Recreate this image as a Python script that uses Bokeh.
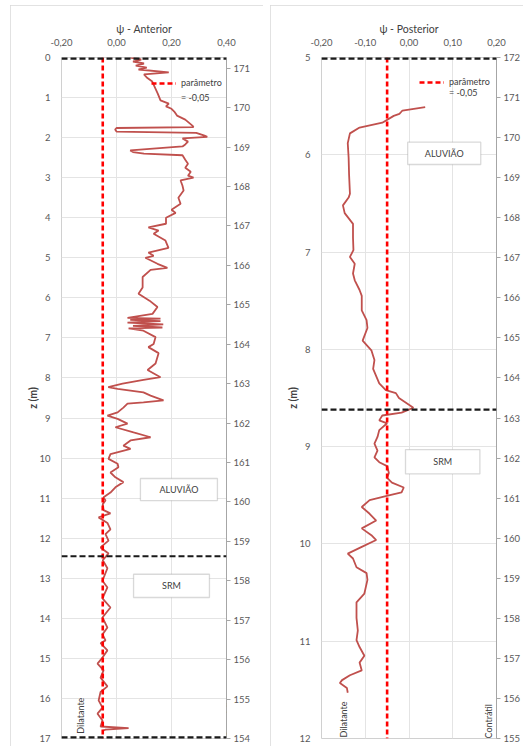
import math
from bokeh.plotting import figure
from bokeh.models import (Range1d, LinearAxis, FixedTicker, Span, Label, Legend,
                          LegendItem, BoxAnnotation)
from bokeh.layouts import row, column, Spacer
from bokeh.embed import file_html
from bokeh.resources import INLINE

# ---- data -------------------------------------------------------------
# psi profile, anterior sounding (z in m, psi dimensionless)
ant_z = [0.00, 0.05, 0.10, 0.15, 0.20, 0.25, 0.30, 0.37, 0.42, 0.50, 0.60, 0.75,
         0.90, 1.07, 1.15, 1.22, 1.28, 1.35, 1.45, 1.55, 1.70, 1.74, 1.76, 1.80,
         1.85, 1.88, 1.95, 1.98, 2.02, 2.10, 2.17, 2.22, 2.32, 2.36, 2.40, 2.44,
         2.55, 2.65, 2.75, 2.85, 2.95, 3.00, 3.07, 3.20, 3.32, 3.50, 3.65, 3.80,
         3.88, 4.00, 4.15, 4.24, 4.32, 4.40, 4.57, 4.75, 4.87, 4.95, 5.00, 5.15,
         5.25, 5.30, 5.48, 5.74, 5.90, 6.07, 6.23, 6.40, 6.50, 6.52, 6.55, 6.58,
         6.62, 6.66, 6.70, 6.74, 6.76, 6.82, 6.98, 7.15, 7.23, 7.38, 7.64, 7.80,
         7.98, 8.05, 8.14, 8.23, 8.27, 8.36, 8.44, 8.56, 8.61, 8.64, 8.74, 8.86,
         8.94, 9.02, 9.14, 9.23, 9.36, 9.48, 9.56, 9.69, 9.77, 9.90, 10.02, 10.14,
         10.23, 10.36, 10.48, 10.60, 10.73, 10.86, 10.98, 11.06, 11.15, 11.30,
         11.38, 11.48, 11.62, 11.78, 11.90, 12.06, 12.23, 12.38, 12.55, 12.75,
         13.06, 13.23, 13.50, 13.73, 13.98, 14.23, 14.40, 14.55, 14.62, 14.80,
         14.98, 15.13, 15.30, 15.48, 15.70, 15.84, 16.05, 16.23, 16.38, 16.55,
         16.70, 16.74, 16.78, 16.80]
ant_psi = [0.05, 0.09, 0.06, 0.10, 0.07, 0.11, 0.08, 0.19, 0.10, 0.11, 0.13, 0.14,
           0.15, 0.16, 0.19, 0.18, 0.20, 0.21, 0.22, 0.25, 0.276, 0.28, 0.00, -0.005,
           0.00, 0.29, 0.32, 0.33, 0.24, 0.26, 0.25, 0.24, 0.05, 0.06, 0.10, 0.24,
           0.25, 0.26, 0.25, 0.27, 0.26, 0.28, 0.233, 0.24, 0.244, 0.225, 0.233, 0.20,
           0.215, 0.18, 0.18, 0.116, 0.153, 0.135, 0.178, 0.189, 0.116, 0.135, 0.105, 0.149,
           0.185, 0.124, 0.095, 0.095, 0.08, 0.12, 0.149, 0.131, 0.04, 0.16, 0.05, 0.16,
           0.04, 0.17, 0.06, 0.167, 0.044, 0.098, 0.142, 0.135, 0.116, 0.153, 0.142, 0.113,
           0.16, 0.098, 0.022, -0.03, 0.004, 0.098, 0.124, 0.171, 0.098, 0.04, 0.025, 0.004,
           -0.033, 0.004, 0.04, -0.004, 0.062, 0.124, 0.051, 0.025, 0.051, -0.022, -0.029, 0.004,
           0.007, -0.022, -0.004, 0.025, -0.004, -0.022, -0.047, -0.04, -0.05, -0.047,
           -0.022, -0.065, -0.033, -0.022, -0.04, -0.029, -0.058, -0.029, -0.05, -0.033,
           -0.051, -0.033, -0.051, -0.022, -0.051, -0.033, -0.051, -0.04, -0.058, -0.033,
           -0.051, -0.069, -0.047, -0.058, -0.033, -0.058, -0.065, -0.051, -0.069, -0.051,
           -0.058, 0.044, -0.04, -0.047]

# psi profile, posterior sounding
post_z = [5.51, 5.545, 5.56, 5.58, 5.60, 5.67, 5.72, 5.78, 5.88, 6.03, 6.20, 6.40,
          6.44, 6.52, 6.60, 6.71, 6.85, 6.98, 7.05, 7.12, 7.22, 7.29, 7.39, 7.45,
          7.60, 7.70, 7.78, 7.91, 8.01, 8.11, 8.20, 8.35, 8.42, 8.45, 8.50, 8.60,
          8.65, 8.68, 8.73, 8.76, 8.83, 8.90, 8.97, 9.04, 9.11, 9.16, 9.20, 9.27,
          9.32, 9.37, 9.42, 9.47, 9.50, 9.55, 9.62, 9.69, 9.76, 9.84, 9.91, 9.96,
          10.03, 10.10, 10.15, 10.24, 10.30, 10.37, 10.51, 10.60, 10.76, 10.89,
          10.99, 11.06, 11.15, 11.22, 11.30, 11.35, 11.40, 11.43, 11.48, 11.53]
post_psi = [0.037, -0.015, -0.018, -0.022, -0.035, -0.061, -0.113, -0.135, -0.140, -0.138, -0.137, -0.135,
            -0.138, -0.151, -0.147, -0.128, -0.128, -0.127, -0.135, -0.124, -0.128, -0.124, -0.113, -0.108,
            -0.108, -0.097, -0.095, -0.106, -0.086, -0.079, -0.082, -0.068, -0.053, -0.030, -0.023, 0.010,
            -0.017, -0.061, -0.068, -0.050, -0.068, -0.072, -0.079, -0.072, -0.079, -0.068, -0.050, -0.046,
            -0.050, -0.039, -0.012, -0.017, -0.046, -0.090, -0.108, -0.090, -0.075, -0.108, -0.086, -0.075,
            -0.108, -0.140, -0.128, -0.120, -0.097, -0.095, -0.102, -0.120, -0.120, -0.117,
            -0.120, -0.113, -0.102, -0.113, -0.108, -0.135, -0.153, -0.158, -0.142, -0.140]

# reference parameter and layer boundaries (depth, m)
param_psi = -0.05
param_labels = ["parâmetro", "= -0,05"]
ant_layers = [0.0, 12.45, 17.0]
post_layers = [5.0, 8.62]

# tick values and labels
ant_x_ticks = [-0.2, 0.0, 0.2, 0.4]
ant_x_labels = ["-0,20", "0,00", "0,20", "0,40"]
post_x_ticks = [-0.2, -0.1, 0.0, 0.1, 0.2]
post_x_labels = ["-0,20", "-0,10", "0,00", "0,10", "0,20"]
ant_z_ticks = list(range(0, 18))
post_z_ticks = list(range(5, 13))
ant_elev_ticks = list(range(154, 172))
post_elev_ticks = list(range(155, 173))

# ---- styling ----------------------------------------------------------
FONT = "Lato"
TXT = "#595959"
CURVE = "#c0504d"
GRID = "#e4e4e4"


def panel(title, z, psi, x_range, z_range, elev_range, x_ticks, x_labels,
          z_ticks, elev_ticks, layers, aluviao_box, srm_box, dil_pos, con_pos,
          legend_loc, legend_gap, right_border):
    p = figure(width=253, height=741, x_range=Range1d(*x_range),
               y_range=Range1d(z_range[1], z_range[0]),
               x_axis_location="above", output_backend="svg",
               toolbar_location=None, min_border_left=51, min_border_top=52,
               min_border_bottom=8, min_border_right=right_border,
               background_fill_color="white", border_fill_color="white",
               outline_line_color="#d0d0d0",
               styles={"outline": "1px solid #d9d9d9", "outline-offset": "-1px"})

    p.extra_y_ranges = {"elev": Range1d(*elev_range)}
    elev_axis = LinearAxis(y_range_name="elev",
                           ticker=FixedTicker(ticks=elev_ticks))
    p.add_layout(elev_axis, "right")

    xa = p.xaxis[0]
    xa.ticker = FixedTicker(ticks=x_ticks)
    xa.major_label_overrides = {t: l for t, l in zip(x_ticks, x_labels)}
    xa.axis_label = title
    xa.axis_label_text_font_style = "normal"
    xa.axis_label_standoff = 1
    xa.major_label_standoff = 12

    ya = p.yaxis[0]
    ya.ticker = FixedTicker(ticks=z_ticks)
    ya.axis_label = "z (m)"
    ya.axis_label_text_font_style = "bold"
    ya.axis_label_standoff = -3
    ya.major_label_standoff = 11

    for ax in (xa, ya, elev_axis):
        ax.major_label_text_font = FONT
        ax.major_label_text_font_size = "9.5px"
        ax.major_label_text_color = TXT
        ax.axis_label_text_font = FONT
        ax.axis_label_text_font_size = "10.5px"
        ax.axis_label_text_color = "#404040"
        ax.minor_tick_line_color = None
        ax.major_tick_in = 0
    for ax in (xa, ya):
        ax.axis_line_color = None
        ax.major_tick_line_color = None
        ax.major_tick_out = 0
    elev_axis.axis_line_color = "#a6a6a6"
    elev_axis.major_tick_line_color = "#a6a6a6"
    elev_axis.major_tick_out = 4
    elev_axis.major_label_standoff = 3

    p.xgrid.ticker = FixedTicker(ticks=x_ticks)
    p.ygrid.ticker = FixedTicker(ticks=z_ticks)
    p.grid.grid_line_color = GRID
    p.grid.grid_line_width = 1

    # text boxes for the soil units
    for (l, r, t, b), name in ((aluviao_box, "ALUVIÃO"), (srm_box, "SRM")):
        p.add_layout(BoxAnnotation(left=l, right=r, top=t, bottom=b,
                                   fill_color="white", fill_alpha=1,
                                   line_color="#808080", line_width=1.3))
        p.add_layout(Label(x=(l + r) / 2, y=(t + b) / 2, text=name,
                           text_align="center", text_baseline="middle",
                           text_font=FONT, text_font_size="9px",
                           text_color="#404040"))

    p.line(psi, z, line_color=CURVE, line_width=1.8)

    zlo, zhi = z_range
    param_r = p.line([param_psi, param_psi], [zlo, zhi], line_color="#ff0000",
                     line_width=2.6, line_dash="5 3")
    # second legend row carries only the value text
    blank_r = p.line([param_psi, param_psi], [zlo, zhi], line_alpha=0)

    # layer boundaries; lines lying on the frame edge are half clipped,
    # so they are drawn twice as wide to keep the same visible weight
    for zz in layers:
        on_edge = zz in (zlo, zhi)
        p.add_layout(Span(location=zz, dimension="width", line_color="#1a1a1a",
                          line_width=4.4 if on_edge else 2.2, line_dash="6 3"))

    for (x, y), txt in ((dil_pos, "Dilatante"), (con_pos, "Contrátil")):
        p.add_layout(Label(x=x, y=y, text=txt, angle=math.pi / 2,
                           text_align="left", text_baseline="middle",
                           text_font=FONT, text_font_size="9px",
                           text_color="#404040"))

    leg = Legend(items=[LegendItem(label=param_labels[0], renderers=[param_r]),
                        LegendItem(label=param_labels[1], renderers=[blank_r])],
                 location=legend_loc, background_fill_alpha=0,
                 border_line_alpha=0, padding=0, margin=0, spacing=legend_gap,
                 glyph_width=25, glyph_height=10, label_standoff=5,
                 label_text_font=FONT, label_text_font_size="9px",
                 label_text_color="#404040", label_height=10)
    p.add_layout(leg)
    return p


p1 = panel("ψ - Anterior", ant_z, ant_psi, (-0.2, 0.4), (0.0, 17.0),
           (154.0, 171.27), ant_x_ticks, ant_x_labels, ant_z_ticks,
           ant_elev_ticks, ant_layers,
           (0.087, 0.367, 10.51, 11.06), (0.062, 0.338, 12.9, 13.48),
           (-0.131, 16.88), (0.415, 16.97), (90, 635), 4, 37)

p2 = panel("ψ - Posterior", post_z, post_psi, (-0.2, 0.2), (5.0, 12.0),
           (155.0, 172.0), post_x_ticks, post_x_labels, post_z_ticks,
           post_elev_ticks, post_layers,
           (-0.003, 0.164, 5.87, 6.10), (-0.008, 0.162, 9.03, 9.28),
           (-0.149, 11.99), (0.182, 12.0), (98, 640), 0, 23)

layout = column(Spacer(height=5),
                row(Spacer(width=10), p1, Spacer(width=7), p2))

open("out.html", "w").write(file_html(layout, INLINE))
